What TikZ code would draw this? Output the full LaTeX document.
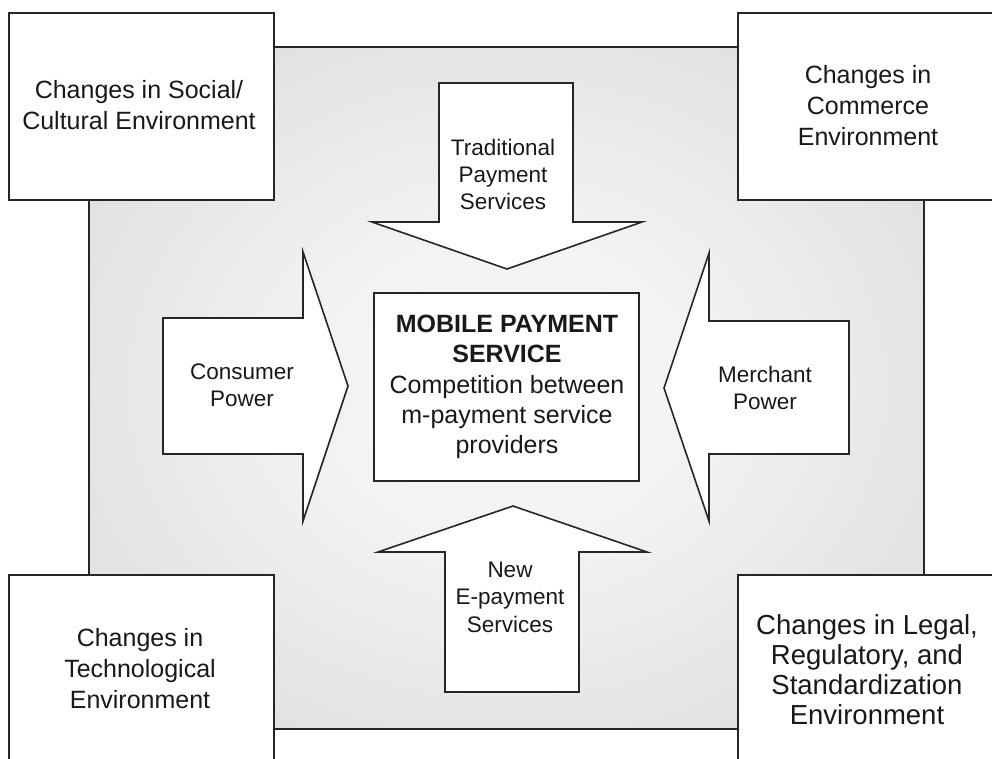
\documentclass[tikz,border=0pt]{standalone}
\usepackage{fontspec}
\setmainfont{Liberation Sans}
\pgfdeclareradialshading{bgshade}{\pgfpoint{0bp}{0bp}}{color(0bp)=(black!3); color(12bp)=(black!5); color(50bp)=(black!20); color(72bp)=(black!23)}
\newcommand\cornerfnt{\fontsize{25}{30.8}\selectfont}
\newcommand\bigcornerfnt{\fontsize{27.5}{30}\selectfont}
\newcommand\centerfnt{\fontsize{25}{30.4}\selectfont}
\newcommand\arrowfnt{\fontsize{22.5}{27.4}\selectfont}
\begin{document}
\begin{tikzpicture}[x=1pt,y=-1pt,line width=1.6pt,line join=miter,
  box/.style={draw=black!85,fill=white},
  lbl/.style={anchor=north,inner sep=0pt,align=center,text=black!90}]
\useasboundingbox (0,0) rectangle (992,758);
\clip (0,0) rectangle (992,758);
\fill[white] (0,0) rectangle (992,758);
% shaded background
\draw[draw=black!85,shading=bgshade] (89,47) rectangle (924,729);
% arrows
\draw[box] (439,83) -- (573,83) -- (573,222) -- (642,222) -- (507,269) -- (372,222) -- (439,222) -- cycle;
\draw[box] (163,318) -- (303,318) -- (303,252) -- (348,386) -- (303,521) -- (303,454) -- (163,454) -- cycle;
\draw[box] (849,321) -- (709,321) -- (709,253) -- (664,388) -- (709,521) -- (709,454) -- (849,454) -- cycle;
\draw[box] (445,692) -- (579,692) -- (579,552) -- (647,552) -- (513,506) -- (378,552) -- (445,552) -- cycle;
% center box
\draw[box] (374,293) rectangle (639,481);
% corner boxes
\draw[box] (9,13) rectangle (274,200);
\draw[box] (738,13) rectangle (1003,200);
\draw[box] (9,575) rectangle (274,765);
\draw[box] (738,575) rectangle (1003,765);
% labels
\node[lbl,font=\cornerfnt] (tl) at (139,80) {Changes in Social/\\Cultural Environment};
\node[lbl,font=\cornerfnt] (tr) at (868,65) {Changes in\\Commerce\\Environment};
\node[lbl,font=\cornerfnt] (bl) at (140,628) {Changes in\\Technological\\Environment};
\node[lbl,font=\bigcornerfnt] (br) at (867,614) {Changes in Legal,\\Regulatory, and\\Standardization\\Environment};
\node[lbl,font=\centerfnt] (mid) at (507,314) {\textbf{MOBILE PAYMENT}\\\textbf{SERVICE}\\Competition between\\m-payment service\\providers};
\node[lbl,font=\arrowfnt] (trad) at (503,138) {Traditional\\Payment\\Services};
\node[lbl,font=\arrowfnt] (cons) at (242,363) {Consumer\\Power};
\node[lbl,font=\arrowfnt] (merc) at (765,365) {Merchant\\Power};
\node[lbl,font=\arrowfnt] (newe) at (510,561) {New\\E-payment\\Services};
\end{tikzpicture}
\end{document}
